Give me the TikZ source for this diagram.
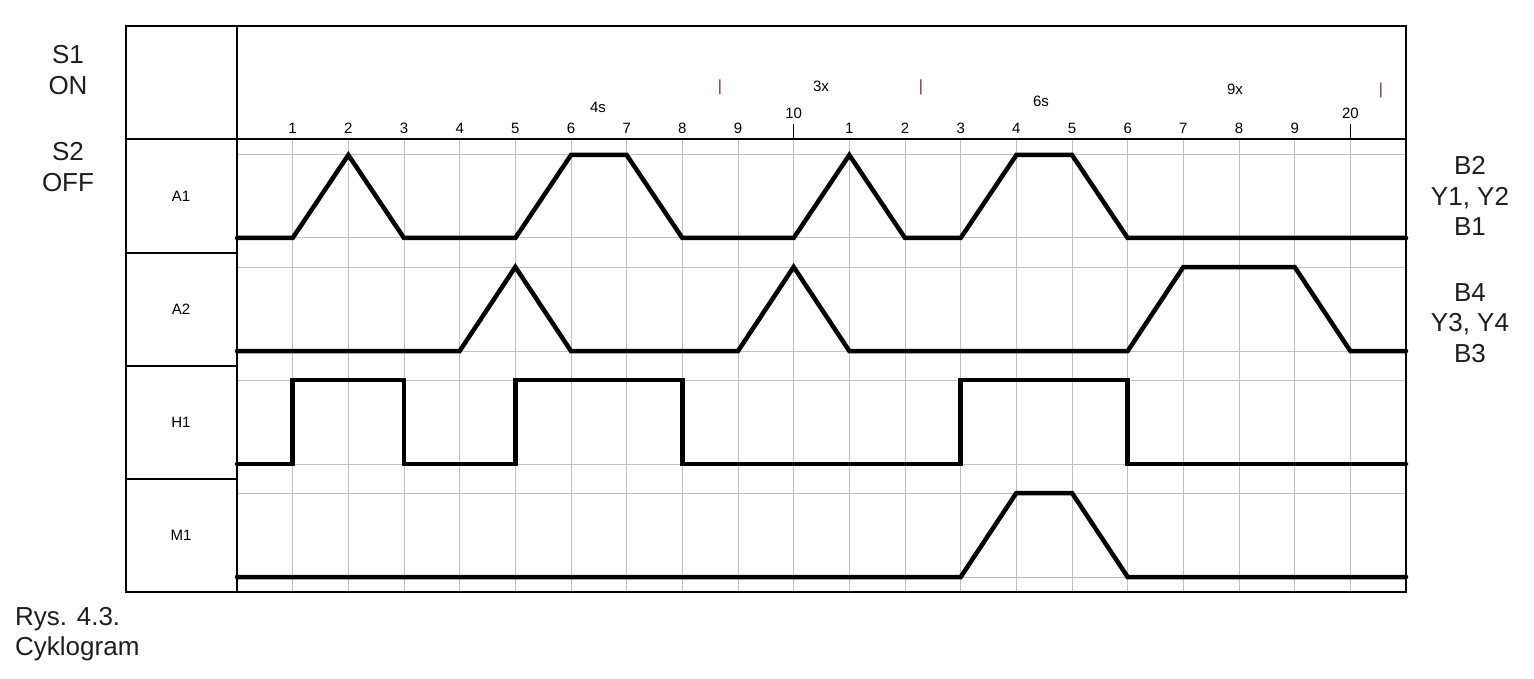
\documentclass[tikz,border=0pt]{standalone}
\usepackage{fontspec}
\setmainfont{Liberation Sans}
\definecolor{gridgray}{RGB}{192,192,192}
\definecolor{barpurple}{RGB}{110,40,100}
\definecolor{labtext}{RGB}{30,30,30}
\begin{document}
\begin{tikzpicture}[x=1pt,y=-1pt,
  gridline/.style={draw=gridgray,line width=1pt},
  frameline/.style={draw=black,line width=1.4pt},
  signal/.style={draw=black,line width=4.5pt,line cap=round,line join=miter},
  bigtext/.style={font=\fontsize{26}{30.5}\selectfont,text=labtext,align=center,inner sep=0pt},
  numtext/.style={font=\fontsize{15}{16}\selectfont,inner sep=0pt},
  rowtext/.style={font=\fontsize{15}{16}\selectfont,inner sep=0pt},
  bartext/.style={font=\fontsize{16}{16}\selectfont,text=barpurple,inner sep=0pt}]
\useasboundingbox (0,0) rectangle (1534,679);
\fill[white] (0,0) rectangle (1534,679);
% grid
\foreach \k in {1,...,20}
  \draw[gridline] ({237+55.667*\k},139) -- ({237+55.667*\k},592);
\foreach \yy in {155,238,267,351,380,464,493,577}
  \draw[gridline] (237,\yy) -- (1406,\yy);
% frame
\draw[frameline] (126,26) rectangle (1406,592);
\draw[frameline] (237,26) -- (237,592);
\draw[frameline] (126,139) -- (1406,139);
\foreach \yy in {253,366,479}
  \draw[frameline] (126,\yy) -- (237,\yy);
% ticks
\draw[frameline,line width=1pt] ({237+55.667*10},124) -- ({237+55.667*10},139);
\draw[frameline,line width=1pt] ({237+55.667*20},124) -- ({237+55.667*20},139);
% header numbers
\foreach \k/\t in {1/1,2/2,3/3,4/4,5/5,6/6,7/7,8/8,9/9,11/1,12/2,13/3,14/4,15/5,16/6,17/7,18/8,19/9}
  \node[numtext] (n\k) at ({237+55.667*\k},128) {\t};
\node[numtext] (n10) at ({237+55.667*10},113) {10};
\node[numtext] (n20) at ({237+55.667*20},113) {20};
\node[numtext] (t4s) at (598,107) {4s};
\node[numtext] (t6s) at (1041,101) {6s};
\node[numtext] (t3x) at (821,86) {3x};
\node[numtext] (t9x) at (1235,89) {9x};
\node[bartext] (b1) at (720,87) {|};
\node[bartext] (b2) at (921,87) {|};
\node[bartext] (b3) at (1381,90) {|};
% row labels
\node[rowtext] (rA1) at (181,196) {A1};
\node[rowtext] (rA2) at (181,309) {A2};
\node[rowtext] (rH1) at (181,422) {H1};
\node[rowtext] (rM1) at (181,535) {M1};
% side texts
\node[bigtext] (s1) at (68,70) {S1\\ON};
\node[bigtext] (s2) at (68,167) {S2\\OFF};
\node[bigtext] (rb1) at (1470,196) {B2\\Y1, Y2\\B1};
\node[bigtext] (rb2) at (1470,323) {B4\\Y3, Y4\\B3};
\node[bigtext,align=left,anchor=west] (cap) at (15,634) {Rys. 4.3.\\Cyklogram};
% signals
\begin{scope}[xshift=237pt,x=55.667pt]
\draw[signal] (0,238) -- (1,238) -- (2,155) -- (3,238) -- (5,238) -- (6,155) -- (7,155) -- (8,238) -- (10,238) -- (11,155) -- (12,238) -- (13,238) -- (14,155) -- (15,155) -- (16,238) -- (21,238);
\draw[signal] (0,351) -- (4,351) -- (5,267) -- (6,351) -- (9,351) -- (10,267) -- (11,351) -- (16,351) -- (17,267) -- (19,267) -- (20,351) -- (21,351);
\draw[signal] (0,464) -- (1,464) -- (1,380) -- (3,380) -- (3,464) -- (5,464) -- (5,380) -- (8,380) -- (8,464) -- (13,464) -- (13,380) -- (16,380) -- (16,464) -- (21,464);
\draw[signal] (0,577) -- (13,577) -- (14,493) -- (15,493) -- (16,577) -- (21,577);
\end{scope}
\end{tikzpicture}
\end{document}
